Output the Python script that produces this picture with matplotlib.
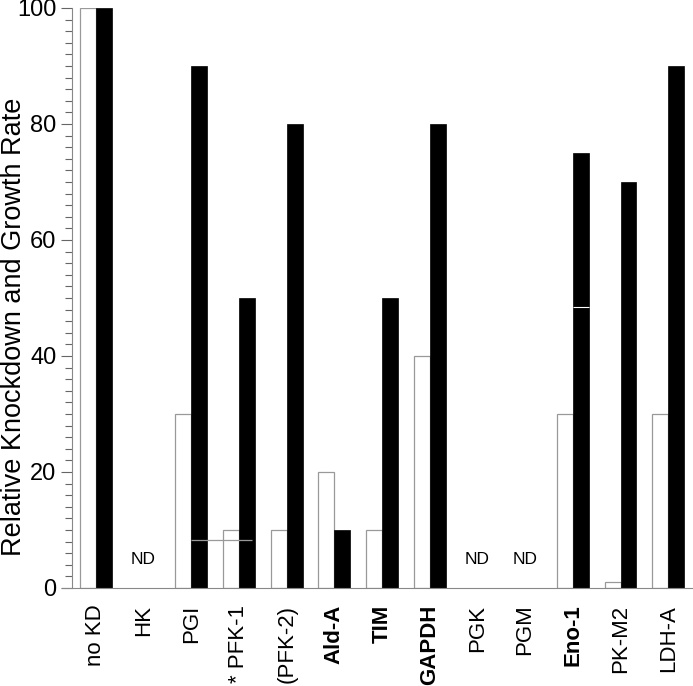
import numpy as np
import matplotlib.pyplot as plt
from matplotlib.ticker import MultipleLocator

plt.rcParams['font.family'] = ['Liberation Sans', 'DejaVu Sans']

genes = ['no KD', 'HK', 'PGI', '* PFK-1', '(PFK-2)', 'Ald-A', 'TIM', 'GAPDH',
         'PGK', 'PGM', 'Eno-1', 'PK-M2', 'LDH-A']
bold = ['Ald-A', 'TIM', 'GAPDH', 'Eno-1']
knockdown = [100, np.nan, 30, 10, 10, 20, 10, 40, np.nan, np.nan, 30, 1, 30]
growth = [100, np.nan, 90, 50, 80, 10, 50, 80, np.nan, np.nan, 75, 70, 90]
nd_genes = ['HK', 'PGK', 'PGM']
nd_level = 5

# stray lines present in the source figure
grey_line = (8.3, 2.0, 3.27)
white_line = (48.5, 10.0, 10.34)

x = np.arange(len(genes))
w = 0.335

fig = plt.figure(figsize=(6.93, 6.86), dpi=100)
ax = fig.add_axes([62/693, 1-588/686, 1-62/693, 580/686])

ax.bar(x - w/2, knockdown, w, color='white', edgecolor='#999999', lw=0.9)
ax.bar(x + w/2, growth, w, color='black', edgecolor='black', lw=0.5)

ax.hlines(grey_line[0], grey_line[1], grey_line[2], color='#999999', lw=0.9)
ax.hlines(white_line[0], white_line[1], white_line[2], color='white', lw=0.8)

for g in nd_genes:
    ax.text(genes.index(g), nd_level, 'ND', ha='center', va='center', fontsize=12.5)

ax.set_xlim(-0.71, 12.52)
ax.set_ylim(0, 100)
ax.spines['left'].set_position(('data', -0.503))
ax.spines['top'].set_visible(False)
ax.spines['right'].set_visible(False)
ax.spines['left'].set_color('#888888')
ax.spines['bottom'].set_color('#888888')

ax.yaxis.set_major_locator(MultipleLocator(20))
ax.yaxis.set_minor_locator(MultipleLocator(2))
ax.tick_params(axis='y', which='major', length=8, width=0.8, color='#666666', labelsize=17, pad=3)
ax.tick_params(axis='y', which='minor', length=5, width=0.8, color='#666666')

ax.set_xticks(x)
ax.set_xticklabels(genes, rotation=90, fontsize=16)
ax.tick_params(axis='x', length=0, pad=12)
for lab in ax.get_xticklabels():
    if lab.get_text() in bold:
        lab.set_fontweight('bold')

ax.set_ylabel('Relative Knockdown and Growth Rate', fontsize=19.5)
ax.yaxis.set_label_coords(-0.055, 0.45)

plt.savefig('out.png', dpi=100)
